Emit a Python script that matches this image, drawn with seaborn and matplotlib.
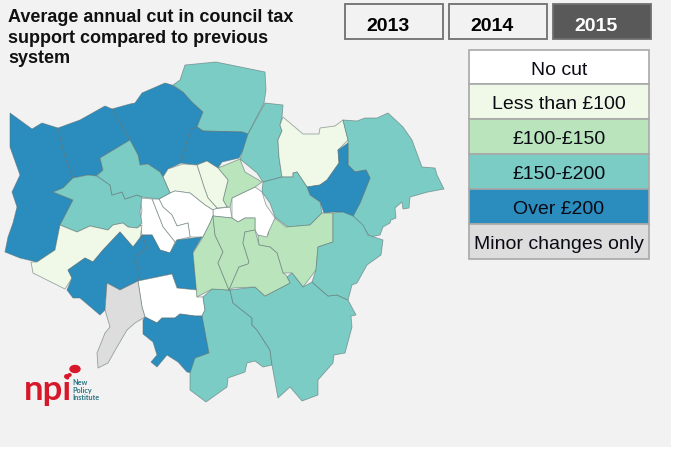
import matplotlib
matplotlib.use("Agg")
import matplotlib.pyplot as plt
from matplotlib.patches import Ellipse
import seaborn as sns

sns.set_theme(style="white")
plt.rcParams['font.family'] = ['Liberation Sans', 'DejaVu Sans']

BG = "#F2F2F2"

# legend bands and their colours
bands = ["No cut", "Less than £100", "£100-£150", "£150-£200", "Over £200", "Minor changes only"]
band_colors = ["#FFFFFF", "#F0F9E8", "#BAE4BC", "#7BCCC4", "#2B8CBE", "#DDDDDD"]
years = ["2013", "2014", "2015"]
year_colors = ["#F2F2F2", "#F2F2F2", "#595959"]
title = "Average annual cut in council tax\nsupport compared to previous\nsystem"

# borough outlines (pixel positions), with the band of each
hillingdon = [(10,113),(32,129),(42,123),(58,128),(65,157),(73,178),(63,188),(53,192),(73,200),(60,225),(55,250),(37,262),(20,258),(5,252),(8,237),(13,223),(17,207),(12,192),(20,175),(10,147)]
harrow = [(58,128),(80,120),(105,106),(112,109),(130,140),(100,158),(103,170),(96,176),(88,175),(73,178),(65,157)]
barnet = [(112,109),(130,104),(135,103),(142,93),(165,83),(172,85),(183,92),(192,102),(203,112),(197,127),(190,130),(187,141),(181,163),(168,169),(163,177),(160,172),(148,164),(140,165),(138,155),(130,140)]
enfield = [(173,85),(183,92),(192,102),(203,112),(197,127),(203,131),(242,132),(248,134),(264,103),(266,90),(265,72),(216,62),(185,65),(180,80)]
haringey = [(197,127),(203,131),(242,132),(248,134),(243,150),(239,158),(222,162),(218,168),(207,161),(196,165),(181,163),(187,141),(190,130)]
waltham_forest = [(265,103),(283,105),(282,117),(280,125),(282,131),(278,140),(279,157),(282,177),(263,182),(257,173),(240,159),(243,150),(248,134)]
redbridge = [(283,117),(303,134),(319,134),(320,128),(335,126),(343,120),(348,140),(338,150),(339,163),(327,180),(320,185),(307,187),(297,172),(293,173),(293,177),(282,177),(279,157),(278,140),(282,131),(280,125)]
havering = [(343,120),(357,121),(365,118),(377,118),(388,113),(403,127),(412,140),(422,167),(435,168),(437,175),(444,189),(428,192),(410,197),(409,208),(403,209),(402,202),(395,208),(396,218),(391,220),(390,223),(383,227),(380,235),(370,237),(362,225),(353,216),(360,203),(370,178),(366,170),(355,172),(348,165),(348,140)]
barking = [(348,143),(338,150),(339,163),(327,180),(320,185),(307,187),(310,195),(320,202),(324,213),(333,212),(340,212),(353,216),(360,203),(370,178),(366,170),(355,172),(348,165)]
newham = [(263,182),(282,177),(293,177),(293,173),(297,172),(307,187),(310,195),(320,202),(322,213),(310,225),(288,227),(275,217),(270,203),(262,192)]
greenwich = [(333,213),(333,242),(318,247),(316,270),(303,287),(292,273),(283,273),(277,253),(270,247),(259,245),(258,235),(268,235),(270,225),(275,218),(286,227),(310,225),(322,213)]
tower_hamlets = [(232,198),(255,187),(262,192),(266,205),(275,218),(268,233),(267,237),(258,235),(255,230),(255,218),(245,218),(238,222),(232,218)]
city = [(213,209),(230,207),(232,218),(213,216)]
hackney = [(218,168),(240,159),(245,172),(262,182),(255,187),(232,198),(230,207),(227,207),(223,200),(228,180)]
islington = [(197,165),(207,161),(218,168),(228,180),(223,200),(227,207),(217,208),(208,198),(204,187)]
camden = [(163,177),(168,169),(183,164),(197,165),(204,187),(208,198),(217,208),(213,210),(205,205),(190,193),(175,191),(170,193)]
westminster = [(170,193),(175,191),(190,193),(205,205),(213,210),(213,216),(210,223),(203,237),(190,237),(188,223),(177,226),(172,215),(163,207),(159,199)]
kensington = [(152,199),(159,199),(163,207),(172,215),(177,226),(188,223),(190,237),(177,240),(175,242),(163,227)]
hammersmith = [(140,198),(152,199),(163,227),(175,242),(170,253),(160,250),(152,235),(142,235),(140,222),(142,210)]
ealing = [(53,192),(63,188),(73,178),(88,175),(97,176),(110,185),(112,195),(122,192),(125,199),(137,195),(142,197),(140,212),(142,223),(137,228),(128,227),(123,223),(113,225),(108,230),(90,226),(77,232),(60,225),(73,200)]
brent = [(100,158),(130,140),(138,155),(140,165),(148,164),(160,172),(163,177),(170,193),(159,199),(142,197),(137,195),(125,199),(122,192),(112,195),(110,185),(97,176),(103,170)]
hounslow = [(60,225),(77,232),(90,226),(108,230),(113,225),(123,223),(128,227),(137,228),(142,225),(140,240),(133,247),(120,232),(103,250),(93,262),(85,258),(68,270),(72,278),(65,289),(53,283),(47,280),(33,273),(31,262),(37,262),(55,250)]
richmond = [(68,270),(85,258),(93,262),(103,250),(120,232),(133,247),(142,235),(147,248),(135,257),(140,273),(138,281),(120,290),(107,283),(105,310),(100,315),(80,298),(73,298),(67,290),(72,278)]
wandsworth = [(142,235),(152,235),(160,250),(170,253),(177,240),(202,237),(193,252),(197,290),(177,288),(172,274),(138,281),(140,273),(135,257),(147,248)]
merton = [(138,281),(172,274),(177,288),(197,290),(197,297),(203,297),(205,310),(202,316),(195,316),(180,314),(175,318),(162,318),(157,323),(145,317),(142,307)]
kingston = [(107,283),(120,290),(138,281),(142,307),(145,317),(135,323),(127,330),(117,347),(108,363),(98,368),(97,353),(105,333),(110,327),(105,310)]
sutton = [(143,320),(145,317),(157,323),(162,318),(175,318),(180,314),(195,316),(203,316),(209,353),(196,358),(193,373),(187,372),(178,362),(167,355),(157,367),(151,362),(157,355),(153,342),(143,334)]
croydon = [(212,289),(203,297),(205,310),(202,316),(209,353),(195,358),(190,373),(190,390),(206,402),(227,387),(228,378),(245,372),(247,363),(255,361),(263,367),(272,365),(270,350),(257,330),(252,325),(252,318),(233,303),(230,290)]
bromley = [(230,290),(255,287),(265,296),(290,283),(287,277),(292,273),(303,287),(312,282),(328,296),(337,295),(348,300),(356,315),(351,316),(352,327),(345,353),(334,355),(333,363),(318,380),(318,395),(302,401),(290,387),(278,398),(272,365),(270,350),(257,330),(252,325),(252,318),(233,303)]
bexley = [(333,213),(343,212),(353,216),(363,225),(368,235),(383,240),(381,255),(367,265),(357,283),(352,285),(348,300),(337,295),(328,296),(312,282),(316,270),(318,247),(333,242)]
lambeth = [(213,216),(215,235),(223,252),(218,263),(229,290),(212,289),(197,297),(193,253),(203,237),(210,223)]
southwark = [(213,216),(232,218),(238,222),(245,218),(255,218),(255,230),(245,232),(243,243),(249,262),(248,264),(239,267),(229,290),(218,263),(223,252),(215,235)]
lewisham = [(245,232),(255,230),(259,245),(270,247),(277,253),(283,273),(286,275),(290,283),(265,296),(255,287),(233,288),(229,290),(239,267),(248,264),(249,262),(243,243)]

boroughs = [
    (hillingdon, "Over £200"), (harrow, "Over £200"), (barnet, "Over £200"), (enfield, "£150-£200"),
    (haringey, "Over £200"), (waltham_forest, "£150-£200"), (redbridge, "Less than £100"), (havering, "£150-£200"),
    (barking, "Over £200"), (newham, "£150-£200"), (greenwich, "£100-£150"), (tower_hamlets, "No cut"),
    (city, "No cut"), (hackney, "£100-£150"), (islington, "Less than £100"), (camden, "Less than £100"),
    (westminster, "No cut"), (kensington, "No cut"), (hammersmith, "No cut"), (ealing, "£150-£200"),
    (brent, "£150-£200"), (hounslow, "Less than £100"), (richmond, "Over £200"), (wandsworth, "Over £200"),
    (merton, "No cut"), (kingston, "Minor changes only"), (sutton, "Over £200"), (croydon, "£150-£200"),
    (bromley, "£150-£200"), (bexley, "£150-£200"), (lambeth, "£100-£150"), (southwark, "£100-£150"),
    (lewisham, "£100-£150"),
]

band_lookup = dict(zip(bands, band_colors))

fig = plt.figure(figsize=(6.73, 4.49), dpi=100, facecolor="white")
W, H = 673, 449


def px_axes(x0, y0, x1, y1):
    return fig.add_axes([x0 / W, 1 - y1 / H, (x1 - x0) / W, (y1 - y0) / H])


# map, in picture pixels
ax = fig.add_axes([0, 0, 1, 1])
ax.set_xlim(0, W)
ax.set_ylim(H, 0)
ax.axis("off")
ax.fill([0, 671, 671, 0], [0, 0, 447, 447], color=BG, lw=0, zorder=0)

for shape, band in boroughs:
    xs, ys = zip(*shape)
    ax.fill(xs, ys, facecolor=band_lookup[band], edgecolor=(0.36, 0.44, 0.44, 0.6), lw=0.6, joinstyle="round", zorder=2)

ax.text(8, 9, title, fontsize=13, fontweight="bold", color="#111111", va="top", ha="left", linespacing=1.27)

# logo
ax.text(24, 400, "npi", fontsize=25, fontweight="bold", color="#D7182A", ha="left", va="baseline", family="Lato")
ax.add_patch(Ellipse((75, 369), 10, 7, color="#D7182A", zorder=3))
ax.add_patch(Ellipse((69.5, 375), 3, 2.5, color="#D7182A", zorder=3))
ax.add_patch(Ellipse((67.5, 378), 2, 1.8, color="#D7182A", zorder=3))
for y, word in zip([385, 392.5, 400], ["New", "Policy", "Institute"]):
    ax.text(72, y, word, fontsize=5.2, fontweight="bold", color="#2A7585", ha="left", va="baseline", family="Lato")

# year buttons
ax_years = px_axes(342, 4, 654, 39)
sns.barplot(x=years, y=[1, 1, 1], hue=years, palette=year_colors, width=98 / 104, saturation=1, legend=False,
            edgecolor="#707070", linewidth=1.3, ax=ax_years)
ax_years.set_ylim(0, 1)
ax_years.axis("off")
for bar in ax_years.patches:
    bar.set_clip_on(False)
for i, (yr, col) in enumerate(zip(years, ["#000000", "#000000", "#FFFFFF"])):
    # labels sit a little left of the button centres in the original
    ax_years.text(i - 0.06, 0.36, yr, fontsize=14, fontweight="bold", color=col, ha="center", va="center")

# legend
ax_leg = px_axes(469, 49.5, 649, 258.5)
sns.barplot(y=bands, x=[1] * len(bands), hue=bands, palette=band_colors, width=1, saturation=1, legend=False,
            edgecolor="#A8A8A8", linewidth=1.2, ax=ax_leg)
ax_leg.set_xlim(0, 1)
ax_leg.axis("off")
for bar in ax_leg.patches:
    bar.set_clip_on(False)
for i, band in enumerate(bands):
    ax_leg.text(0.5, i + 0.09, band, fontsize=14, color="#0A0A14", ha="center", va="center")

fig.savefig("out.png", dpi=100, facecolor="white")
